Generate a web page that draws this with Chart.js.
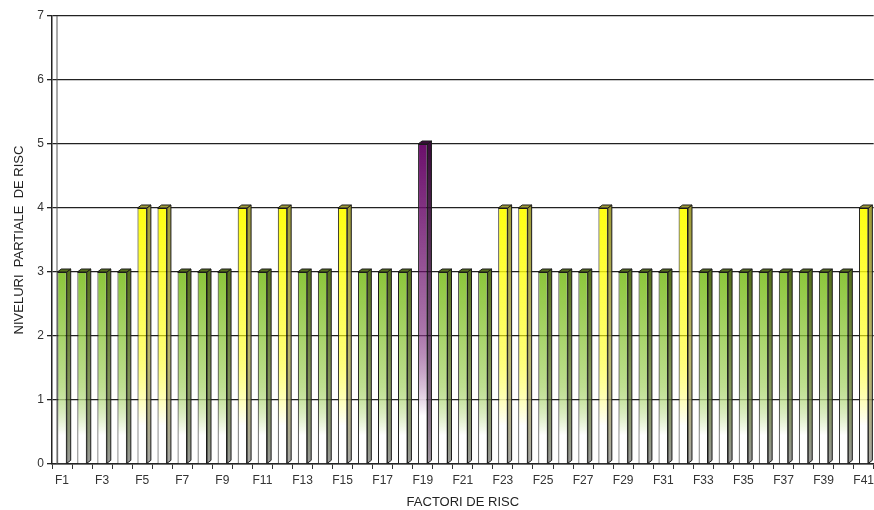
<!DOCTYPE html>
<html>
<head>
<meta charset="utf-8">
<script src="https://cdn.jsdelivr.net/npm/chart.js@4.4.1/dist/chart.umd.min.js"></script>
<style>
  html, body { margin: 0; padding: 0; background: #fff; overflow: hidden; }
  #wrap { width: 878px; height: 510px; }
</style>
</head>
<body>
<div id="wrap"><canvas id="barChart"></canvas></div>
<script>
// factori de risc F1..F41
const factori = ['F1','F2','F3','F4','F5','F6','F7','F8','F9','F10',
  'F11','F12','F13','F14','F15','F16','F17','F18','F19','F20',
  'F21','F22','F23','F24','F25','F26','F27','F28','F29','F30',
  'F31','F32','F33','F34','F35','F36','F37','F38','F39','F40','F41']
const niveluri = [3,3,3,3,4,4,3,3,3,4,
  3,4,3,3,4,3,3,3,5,3,
  3,3,4,4,3,3,3,4,3,3,
  3,4,3,3,3,3,3,3,3,3,4]
const yTicks = [0,1,2,3,4,5,6,7]

// colours per level: front top, front bottom, side top, side bottom
const palette = {
  3: ['#8cc63a', '#ffffff', '#556f1c', '#9a9a9a'],
  4: ['#ffff10', '#ffffff', '#a09c38', '#a6a6a6'],
  5: ['#6c0f6c', '#ffffff', '#3a0c3a', '#a098a0']
}

const frontFill = (ctx) => {
  const chart = ctx.chart
  const v = niveluri[ctx.dataIndex]
  const p = palette[v] || palette[3]
  if (!chart.chartArea) return p[0]
  const ys = chart.scales.y
  const top = ys.getPixelForValue(v)
  const bot = ys.getPixelForValue(0)
  const g = chart.ctx.createLinearGradient(0, top, 0, bot)
  g.addColorStop(0, p[0])
  g.addColorStop(0.55, p[0] + '99')
  g.addColorStop(0.85, p[1])
  g.addColorStop(1, p[1])
  return g
}

// simple 3d look: side and top faces drawn from the bar elements
const bars3d = {
  id: 'bars3d',
  afterDatasetsDraw(chart) {
    const c = chart.ctx
    const meta = chart.getDatasetMeta(0)
    const dx = 4, dy = 3
    c.save()
    c.lineWidth = 1
    c.strokeStyle = '#1a1a1a'
    meta.data.forEach((bar, i) => {
      const p = palette[niveluri[i]] || palette[3]
      const w = bar.width
      const r = bar.x + w / 2
      const l = bar.x - w / 2
      const top = bar.y
      const base = bar.base
      const g = c.createLinearGradient(0, top, 0, base)
      g.addColorStop(0, p[2])
      g.addColorStop(0.6, p[2] + 'bb')
      g.addColorStop(1, p[3])
      c.fillStyle = g
      c.beginPath()
      c.moveTo(r, top)
      c.lineTo(r + dx, top - dy)
      c.lineTo(r + dx, base - dy)
      c.lineTo(r, base)
      c.closePath()
      c.fill()
      c.stroke()
      c.fillStyle = p[2]
      c.beginPath()
      c.moveTo(l, top)
      c.lineTo(l + dx, top - dy)
      c.lineTo(r + dx, top - dy)
      c.lineTo(r, top)
      c.closePath()
      c.fill()
      c.stroke()
    })
    c.restore()
  },
  beforeDatasetsDraw(chart) {
    // back wall edge next to the value axis
    const c = chart.ctx
    const a = chart.chartArea
    c.save()
    c.strokeStyle = '#555'
    c.lineWidth = 1
    c.beginPath()
    c.moveTo(a.left + 5, a.top)
    c.lineTo(a.left + 5, a.bottom)
    c.stroke()
    c.restore()
  }
}

const ctxBar = document.getElementById('barChart')
new Chart(ctxBar, {
  type: 'bar',
  data: {
    labels: factori,
    datasets: [{
      label: 'Nivel',
      data: niveluri,
      backgroundColor: frontFill,
      borderColor: '#1a1a1a',
      borderWidth: 1,
      barPercentage: 0.9,
      categoryPercentage: 0.52
    }]
  },
  options: {
    responsive: true,
    maintainAspectRatio: false,
    animation: false,
    layout: { padding: { top: 16, right: 0, bottom: 0, left: 0 } },
    plugins: {
      legend: { display: false },
      tooltip: { enabled: false }
    },
    scales: {
      x: {
        afterFit: (s) => { s.height = 46 },
        grid: { display: true, drawOnChartArea: false, drawTicks: true, tickLength: 5, color: '#333' },
        border: { display: true, color: '#222', width: 1.5 },
        ticks: {
          autoSkip: false,
          maxRotation: 0,
          padding: 4,
          color: '#333',
          font: { family: 'Liberation Sans', size: 12 },
          callback: function (val, idx) { return idx % 2 === 0 ? this.getLabelForValue(val) : '' }
        },
        title: {
          display: true,
          text: 'FACTORI DE RISC',
          color: '#222',
          font: { family: 'Liberation Sans', size: 13 },
          padding: { top: 0, bottom: 0 }
        }
      },
      y: {
        min: 0,
        max: 7,
        afterFit: (s) => { s.width = 52 },
        afterBuildTicks: (s) => { s.ticks = yTicks.map(v => ({ value: v })) },
        grid: { color: '#222', lineWidth: 1.3, tickLength: 5 },
        border: { display: true, color: '#222', width: 1.5 },
        ticks: {
          padding: 3,
          color: '#333',
          font: { family: 'Liberation Sans', size: 12 }
        },
        title: {
          display: true,
          text: 'NIVELURI  PARTIALE  DE RISC',
          color: '#222',
          font: { family: 'Liberation Sans', size: 13 },
          padding: { top: 12, bottom: 0 }
        }
      }
    }
  },
  plugins: [bars3d]
})
</script>
</body>
</html>
